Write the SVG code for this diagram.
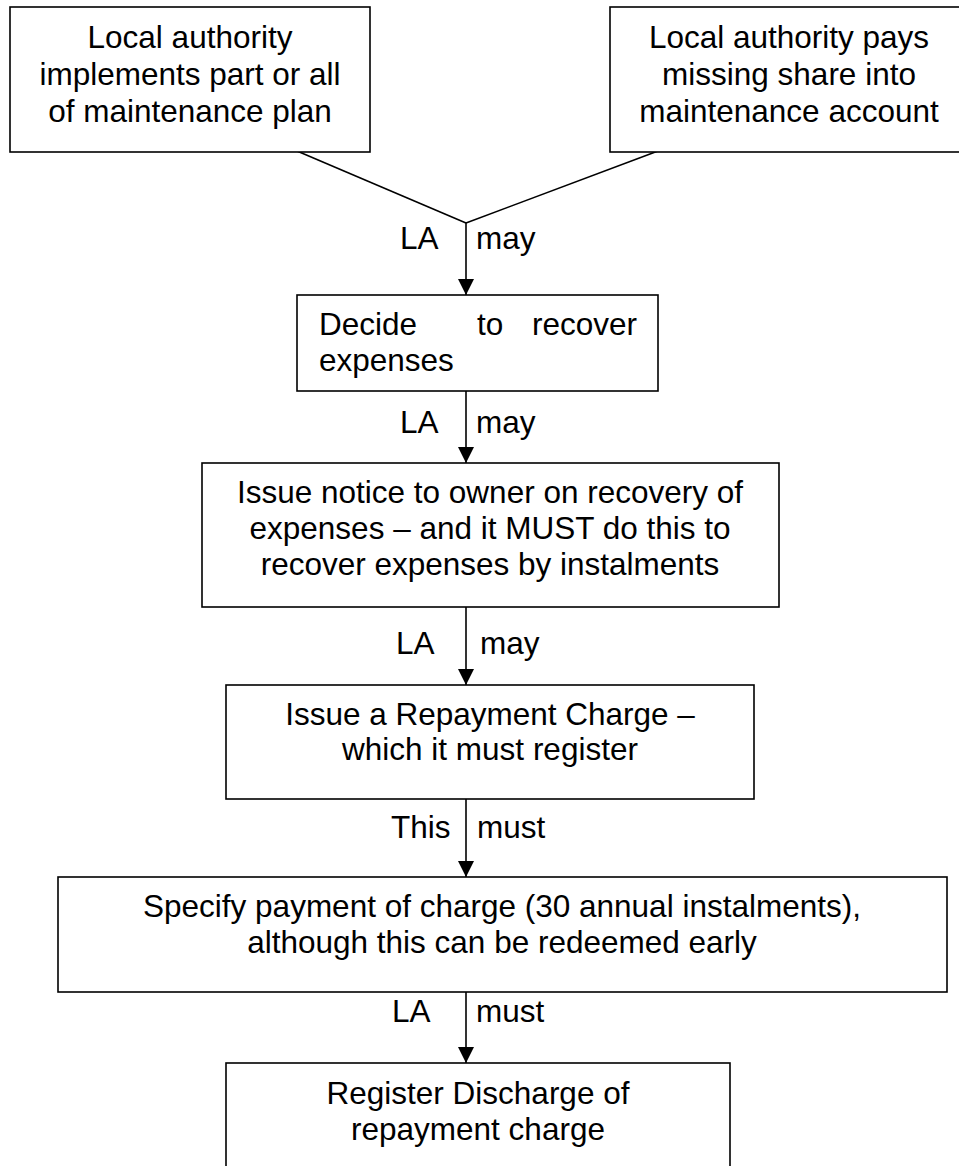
<svg xmlns="http://www.w3.org/2000/svg" width="959" height="1166" viewBox="0 0 959 1166">
<defs>
<marker id="arr" markerUnits="userSpaceOnUse" markerWidth="16" markerHeight="16" refX="16" refY="8" orient="auto">
<path d="M0,0 L16,8 L0,16 z" fill="#000"/>
</marker>
<style>
.box{fill:#fff;stroke:#000;stroke-width:1.6}
.t{font-family:"Liberation Sans",Arial,sans-serif;font-size:31.5px;fill:#000}
.c{text-anchor:middle}
.ln{stroke:#000;stroke-width:1.6;fill:none}
</style>
</defs>
<rect width="959" height="1166" fill="#fff"/>
<g id="connectors">
<line class="ln" x1="297" y1="151" x2="466" y2="223"/>
<line class="ln" x1="658" y1="151" x2="466" y2="223"/>
<line class="ln" x1="466" y1="223" x2="466" y2="295" marker-end="url(#arr)"/>
<line class="ln" x1="466" y1="391" x2="466" y2="463" marker-end="url(#arr)"/>
<line class="ln" x1="466" y1="607" x2="466" y2="685" marker-end="url(#arr)"/>
<line class="ln" x1="466" y1="799" x2="466" y2="877" marker-end="url(#arr)"/>
<line class="ln" x1="466" y1="992" x2="466" y2="1063" marker-end="url(#arr)"/>
<text class="t" x="400" y="249">LA</text><text class="t" x="476" y="249">may</text>
<text class="t" x="400" y="433">LA</text><text class="t" x="476" y="433">may</text>
<text class="t" x="396" y="654">LA</text><text class="t" x="480" y="654">may</text>
<text class="t" x="391" y="838">This</text><text class="t" x="477" y="838">must</text>
<text class="t" x="392" y="1022">LA</text><text class="t" x="476" y="1022">must</text>
</g>
<g id="n1">
<rect class="box" x="10" y="7" width="360" height="145"/>
<text class="t c" x="190" y="48">Local authority</text>
<text class="t c" x="190" y="85">implements part or all</text>
<text class="t c" x="190" y="122">of maintenance plan</text>
</g>
<g id="n2">
<rect class="box" x="610" y="7" width="360" height="145"/>
<text class="t c" x="789" y="48">Local authority pays</text>
<text class="t c" x="789" y="85">missing share into</text>
<text class="t c" x="789" y="122">maintenance account</text>
</g>
<g id="n3">
<rect class="box" x="297" y="295" width="361" height="96"/>
<text class="t" x="319" y="335">Decide</text>
<text class="t" x="477" y="335">to</text>
<text class="t" x="637" y="335" text-anchor="end">recover</text>
<text class="t" x="319" y="371">expenses</text>
</g>
<g id="n4">
<rect class="box" x="202" y="463" width="577" height="144"/>
<text class="t c" x="490" y="503">Issue notice to owner on recovery of</text>
<text class="t c" x="490" y="539">expenses – and it MUST do this to</text>
<text class="t c" x="490" y="575">recover expenses by instalments</text>
</g>
<g id="n5">
<rect class="box" x="226" y="685" width="528" height="114"/>
<text class="t c" x="490" y="725">Issue a Repayment Charge –</text>
<text class="t c" x="490" y="760">which it must register</text>
</g>
<g id="n6">
<rect class="box" x="58" y="877" width="889" height="115"/>
<text class="t c" x="502" y="917">Specify payment of charge (30 annual instalments),</text>
<text class="t c" x="502" y="953">although this can be redeemed early</text>
</g>
<g id="n7">
<rect class="box" x="226" y="1063" width="504" height="120"/>
<text class="t c" x="478" y="1104">Register Discharge of</text>
<text class="t c" x="478" y="1140">repayment charge</text>
</g>
</svg>
